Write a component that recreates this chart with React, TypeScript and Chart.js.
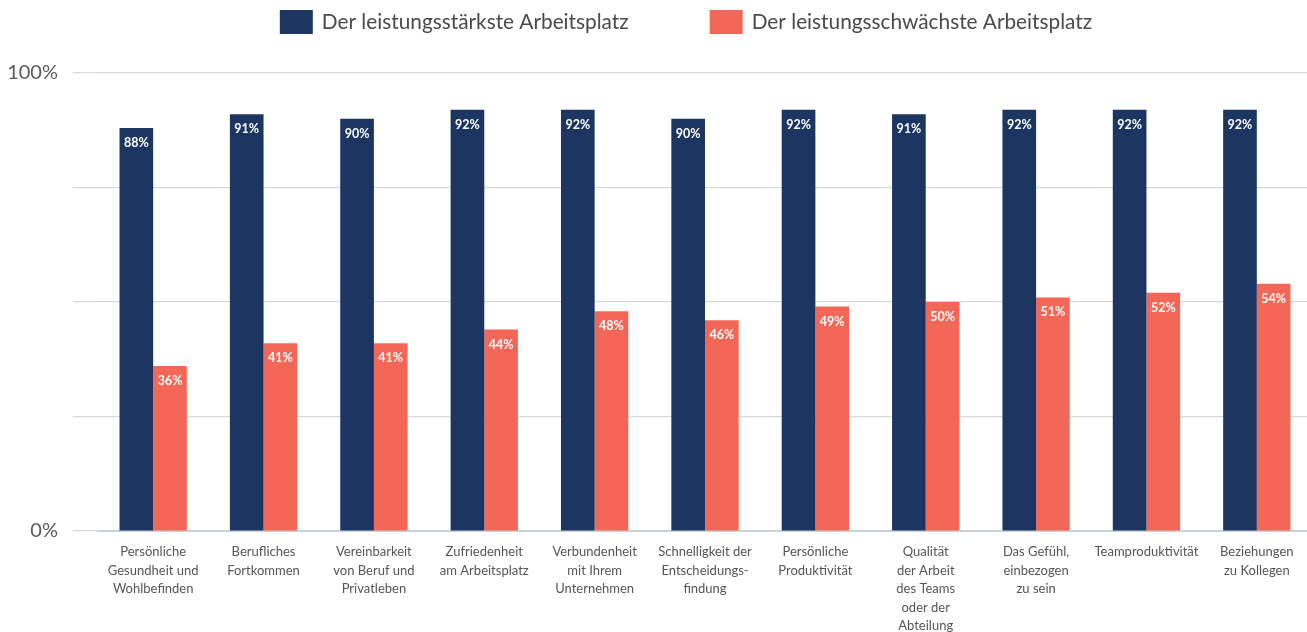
import React, { useEffect, useRef } from "react";
import { Chart, registerables } from "chart.js";

Chart.register(...registerables);

const categories: string[][] = [
  ["Persönliche", "Gesundheit und", "Wohlbefinden"],
  ["Berufliches", "Fortkommen"],
  ["Vereinbarkeit", "von Beruf und", "Privatleben"],
  ["Zufriedenheit", "am Arbeitsplatz"],
  ["Verbundenheit", "mit Ihrem", "Unternehmen"],
  ["Schnelligkeit der", "Entscheidungs-", "findung"],
  ["Persönliche", "Produktivität"],
  ["Qualität", "der Arbeit", "des Teams", "oder der", "Abteilung"],
  ["Das Gefühl,", "einbezogen", "zu sein"],
  ["Teamproduktivität"],
  ["Beziehungen", "zu Kollegen"],
];

const seriesNames = [
  "Der leistungsstärkste Arbeitsplatz",
  "Der leistungsschwächste Arbeitsplatz",
];
const bestValues = [88, 91, 90, 92, 92, 90, 92, 91, 92, 92, 92];
const worstValues = [36, 41, 41, 44, 48, 46, 49, 50, 51, 52, 54];
const yTickValues = [0, 100];

const NAVY = "#1d3561";
const RED = "#f26757";
const FONT = "Lato, 'Open Sans', sans-serif";

const valueLabels = {
  id: "valueLabels",
  afterDatasetsDraw(chart: any) {
    const ctx = chart.ctx;
    ctx.save();
    ctx.font = `bold 12.5px ${FONT}`;
    ctx.fillStyle = "#ffffff";
    ctx.textAlign = "center";
    ctx.textBaseline = "middle";
    chart.data.datasets.forEach((ds: any, i: number) => {
      const meta = chart.getDatasetMeta(i);
      meta.data.forEach((bar: any, j: number) => {
        ctx.fillText(ds.data[j] + "%", bar.x, bar.y + 15);
      });
    });
    ctx.restore();
  },
};

const customLegend = {
  id: "customLegend",
  afterDraw(chart: any, _args: any, opts: any) {
    const ctx = chart.ctx;
    ctx.save();
    ctx.font = `${opts.fontSize}px ${FONT}`;
    ctx.textBaseline = "middle";
    ctx.textAlign = "left";
    const items = chart.data.datasets.map((ds: any) => ({
      text: ds.label,
      color: ds.backgroundColor,
    }));
    const widths = items.map(
      (it: any) => opts.boxWidth + opts.gap + ctx.measureText(it.text).width
    );
    const total =
      widths.reduce((a: number, b: number) => a + b, 0) +
      opts.itemSpacing * (items.length - 1);
    let x = opts.centerX - total / 2;
    items.forEach((it: any, i: number) => {
      ctx.fillStyle = it.color;
      ctx.fillRect(x, opts.y - opts.boxHeight / 2, opts.boxWidth, opts.boxHeight);
      ctx.fillStyle = opts.color;
      ctx.fillText(it.text, x + opts.boxWidth + opts.gap, opts.y);
      x += widths[i] + opts.itemSpacing;
    });
    ctx.restore();
  },
};

export default function App() {
  const canvasRef = useRef<HTMLCanvasElement | null>(null);

  useEffect(() => {
    if (!canvasRef.current) return;
    const chart = new Chart(canvasRef.current, {
      type: "bar",
      data: {
        labels: categories,
        datasets: [
          {
            label: seriesNames[0],
            data: bestValues,
            backgroundColor: NAVY,
            categoryPercentage: 0.61,
            barPercentage: 1.0,
          },
          {
            label: seriesNames[1],
            data: worstValues,
            backgroundColor: RED,
            categoryPercentage: 0.61,
            barPercentage: 1.0,
          },
        ],
      },
      options: {
        animation: false,
        responsive: true,
        maintainAspectRatio: false,
        layout: { padding: { left: 0, right: 8, top: 73, bottom: 0 } },
        plugins: {
          legend: { display: false },
          tooltip: { enabled: false },
          customLegend: {
            centerX: 686,
            y: 22,
            boxWidth: 33,
            boxHeight: 24,
            gap: 9,
            itemSpacing: 81,
            fontSize: 20.8,
            color: "#4a4a4a",
          },
        } as any,
        scales: {
          x: {
            grid: { display: false, drawTicks: false },
            border: { display: true, color: "#c9d2d7", width: 2 },
            ticks: {
              autoSkip: false,
              maxRotation: 0,
              minRotation: 0,
              padding: 12,
              color: "#555555",
              font: { family: FONT, size: 13, lineHeight: 1.42 },
            },
            afterFit(scale: any) {
              scale.height = 101;
            },
          },
          y: {
            min: 0,
            max: 100,
            grid: {
              color: "#d3d9dd",
              lineWidth: 1.2,
              drawTicks: true,
              tickLength: 25,
              tickColor: "#d3d9dd",
            },
            border: { display: false },
            ticks: {
              stepSize: 25,
              padding: 15,
              color: "#5a5a5a",
              font: { family: FONT, size: 20 },
              callback: (v: any) =>
                yTickValues.includes(Number(v)) ? `${v}%` : "",
            },
            afterFit(scale: any) {
              scale.width = 98;
            },
          },
        },
      },
      plugins: [valueLabels, customLegend],
    });
    return () => chart.destroy();
  }, []);

  return (
    <div
      style={{
        position: "fixed",
        left: 0,
        top: 0,
        width: 1320,
        height: 632,
        background: "#ffffff",
      }}
    >
      <canvas ref={canvasRef} />
    </div>
  );
}
